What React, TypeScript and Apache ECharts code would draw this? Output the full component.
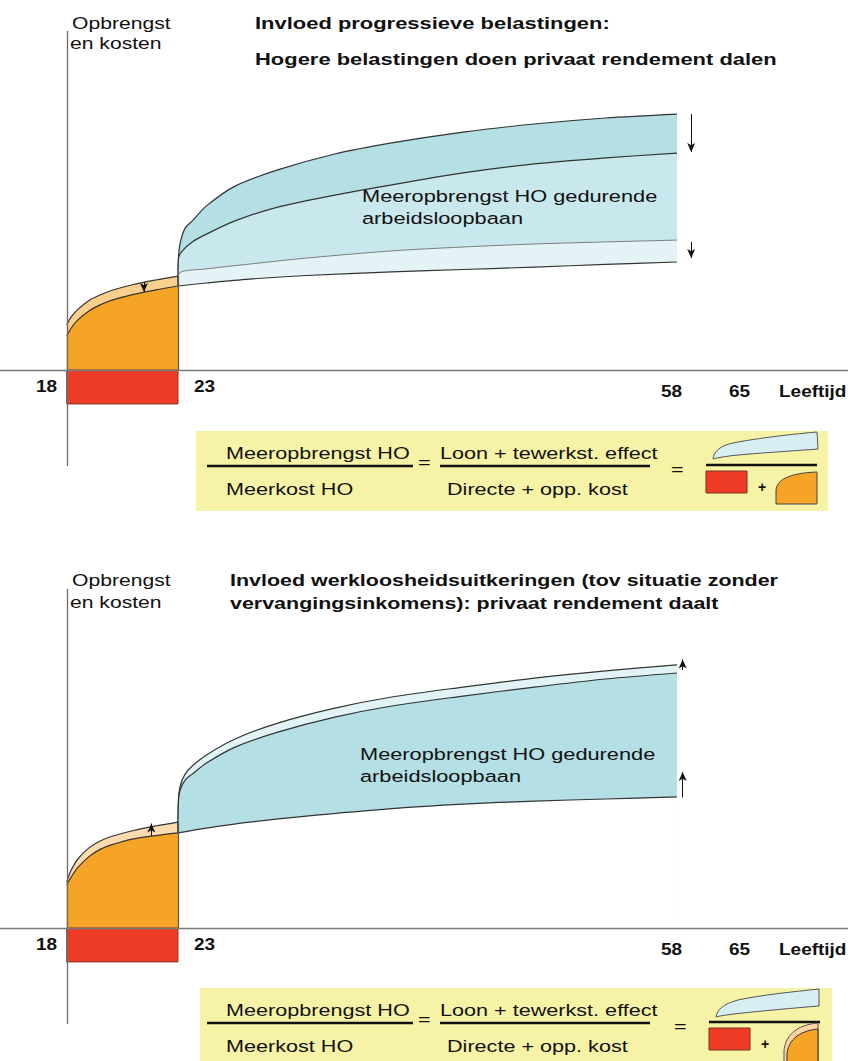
import React, { useEffect, useRef } from "react";
import * as echarts from "echarts";

const FONT = '"Liberation Sans", Arial, Helvetica, sans-serif';

// ===================== DATA (relative income units) =====================
const studyAges = [18, 18.2, 18.5, 19, 19.5, 20, 21, 22, 23];

// Panel 1: progressive taxes
const taxForegoneGross = [15, 17.7, 20.2, 23.2, 25, 26.5, 28.5, 30, 31.3];
const taxForegoneNet = [11.3, 14, 16.7, 19.7, 21.7, 23.2, 25.2, 26.7, 28];
const taxDirectCost = -11.3;
const taxHOGrossAges = [23, 23.03, 23.15, 23.5, 24, 25, 27, 30, 34, 38, 43, 48, 53, 58];
const taxHOGross = [28, 37, 42.3, 47.3, 49.7, 54.7, 61.3, 66.7, 72, 75.7, 79.3, 82, 84, 85.3];
const taxHONetAges = [23, 23.03, 23.3, 24, 25, 27, 30, 34, 38, 43, 48, 53, 58];
const taxHONet = [28, 37, 39.7, 42.7, 45.3, 49.7, 54.3, 58.3, 61.7, 65.7, 68.7, 70.7, 72.3];
const taxLowGrossAges = [23, 23.1, 25, 28, 32, 38, 43, 48, 53, 58];
const taxLowGross = [28, 32.3, 33.7, 35.3, 37.3, 39.7, 41, 42, 42.7, 43.3];
const taxLowNetAges = [23, 25, 28, 32, 38, 43, 48, 53, 58];
const taxLowNet = [28, 29, 30.3, 31.5, 32.7, 33.5, 34.3, 35.2, 36];
// arrows: [age, from, to]
const taxArrowsWork = [[59, 85.3, 72.7], [59, 42.7, 37.3]];
const taxArrowsStudy = [[21.47, 29.3, 26]];

// Panel 2: unemployment benefits
const benForegoneHigh = [15.3, 19.3, 23, 26.7, 29, 30.5, 32.5, 34, 35.3];
const benForegoneBase = [14.3, 17, 20.2, 23.8, 26.2, 27.7, 29.7, 30.8, 31.7];
const benDirectCost = -11.3;
const benHOUpperAges = [23, 23.02, 23.15, 23.5, 24, 25, 27, 30, 34, 38, 43, 48, 53, 58];
const benHOUpper = [31.7, 41.7, 47.3, 51.3, 54, 57.7, 63, 68.3, 73.3, 77, 80.3, 83.3, 85.7, 87.7];
const benHOAges = [23, 23.02, 23.15, 23.5, 24, 25, 27, 30, 34, 38, 43, 48, 53, 58];
const benHO = [31.7, 41, 46, 49.3, 51.3, 55, 60.3, 65.3, 70.3, 74, 77.3, 80.3, 83, 85];
const benLowAges = [23, 25, 28, 32, 38, 43, 48, 53, 58];
const benLow = [31.7, 33.3, 35.3, 37.3, 39.8, 41.3, 42.3, 43, 43.7];
const benArrowsWork = [[58.4, 86, 89.5], [58.4, 43.5, 52]];
const benArrowsStudy = [[21.8, 30.7, 34.8]];

const tickLabels = ["18", "23", "58", "65"];
const ageAxisName = "Leeftijd";
const valueAxisName = ["Opbrengst", "en kosten"];
const studyStart = 18;
const studyEnd = 23;

// ===================== SHAPES for the formula boxes =====================
echarts.graphic.registerShape(
  "iconBlueTop",
  echarts.graphic.extendPath("M0,27 C1,20 6,14 20,11 C40,7 70,3 104,0 L105,17 C80,19 45,21 20,23.5 C9,25 3,26 0,27 Z", {})
);
echarts.graphic.registerShape(
  "iconOrangeTop",
  echarts.graphic.extendPath("M0,33 L0,20 C0,9 13,2 41,1 L41,33 Z", {})
);
echarts.graphic.registerShape(
  "iconBlueBot",
  echarts.graphic.extendPath("M0,28 C1,21 7,15 22,11 C45,6 75,3 103,0 L103,17 C78,19 45,22 22,24.5 C10,26 3,27 0,28 Z", {})
);
echarts.graphic.registerShape(
  "iconOrangeBandBot",
  echarts.graphic.extendPath("M-1,40 L-1,26 C0,12 10,0 33,-2 L33,40 Z", {})
);
echarts.graphic.registerShape(
  "iconOrangeBot",
  echarts.graphic.extendPath("M2,40 L2,29 C3,17 12,6 33,4 L33,40 Z", {})
);

// ===================== HELPERS =====================
const INK = "#333";
const pair = (xs: number[], ys: number[]) => xs.map((x, i) => [x, ys[i]]);

const areaSeries = (name: string, idx: number, data: number[][], fill: string, z: number, line = INK, lw = 1.2) => ({
  name,
  type: "line",
  xAxisIndex: idx,
  yAxisIndex: idx,
  data,
  z,
  symbol: "none",
  smooth: 0.3,
  silent: true,
  lineStyle: { color: line, width: lw },
  areaStyle: { color: fill, opacity: 1 },
});

const directCostSeries = (idx: number, value: number) => ({
  type: "custom",
  xAxisIndex: idx,
  yAxisIndex: idx,
  z: 4,
  silent: true,
  data: [[studyStart, studyEnd, value]],
  renderItem: (params: any, api: any) => {
    const p0 = api.coord([api.value(0), 0]);
    const p1 = api.coord([api.value(1), api.value(2)]);
    return {
      type: "rect",
      shape: { x: p0[0], y: p0[1], width: p1[0] - p0[0], height: p1[1] - p0[1] },
      style: { fill: "#ee3c26", stroke: "#8a3526", lineWidth: 1 },
    };
  },
});

const markerSeries = (idx: number, items: any[], arrow: boolean) => ({
  type: "line",
  xAxisIndex: idx,
  yAxisIndex: idx,
  data: [],
  z: 10,
  silent: true,
  symbol: "none",
  markLine: {
    silent: true,
    z: 10,
    animation: false,
    symbol: arrow ? ["none", "arrow"] : ["none", "none"],
    symbolSize: arrow ? [6, 9] : 1,
    label: { show: false },
    emphasis: { disabled: true },
    lineStyle: { color: arrow ? "#111" : "#555", width: arrow ? 1 : 1.2, type: "solid", opacity: 1 },
    data: items,
  },
});

const arrowItems = (arr: number[][]) => arr.map(([x, a, b]) => [{ coord: [x, a] }, { coord: [x, b] }]);

const T = (text: string, x: number, y: number, o: any = {}) => ({
  type: "text",
  x,
  y,
  scaleX: o.sx ?? 1.31,
  silent: true,
  z: 100,
  style: {
    text,
    fill: "#111",
    fontFamily: FONT,
    fontSize: o.size ?? 16.5,
    fontWeight: o.bold ? "bold" : "normal",
    align: o.align ?? "left",
    verticalAlign: "middle",
  },
});

const L = (x1: number, y1: number, x2: number, y2: number, w = 2.5) => ({
  type: "line",
  silent: true,
  z: 100,
  shape: { x1, y1, x2, y2 },
  style: { stroke: "#111", lineWidth: w },
});

function formulaBox(dy: number, dx: number, boxX: number, bottomVariant: boolean) {
  const els: any[] = [
    { type: "rect", silent: true, z: 90, shape: { x: boxX, y: 431 + dy, width: 632, height: 80 }, style: { fill: "#f7f3a6" } },
    T("Meeropbrengst HO", 226, 453 + dy),
    L(207, 466 + dy, 413, 466 + dy),
    T("Meerkost HO", 226, 489 + dy),
    T("=", 418, 462 + dy),
    T("Loon + tewerkst. effect", 440, 453 + dy),
    L(440, 466 + dy, 650, 466 + dy),
    T("Directe + opp. kost", 447, 489 + dy),
    T("=", 671 + dx, 469 + dy),
    L(706 + dx, 465 + dy, 817 + dx, 465 + dy),
    {
      type: bottomVariant ? "iconBlueBot" : "iconBlueTop",
      x: 713 + dx,
      y: 432 + dy,
      z: 100,
      silent: true,
      style: { fill: "#d7eef3", stroke: "#555", lineWidth: 1 },
    },
    { type: "rect", silent: true, z: 100, shape: { x: 706 + dx, y: 471 + dy, width: 41, height: 22 }, style: { fill: "#ee3c26", stroke: "#7a3022", lineWidth: 1 } },
    T("+", 762 + dx, 487 + dy, { bold: true, size: 14, sx: 1, align: "center" }),
  ];
  if (bottomVariant) {
    els.push({ type: "iconOrangeBandBot", x: 785, y: 1025, z: 100, silent: true, style: { fill: "#fbd5a2", stroke: "#555", lineWidth: 1 } });
    els.push({ type: "iconOrangeBot", x: 785, y: 1025, z: 101, silent: true, style: { fill: "#f5a425", stroke: "#333", lineWidth: 1 } });
  } else {
    els.push({ type: "iconOrangeTop", x: 776, y: 471, z: 100, silent: true, style: { fill: "#f5a425", stroke: "#444", lineWidth: 1 } });
  }
  return els;
}

function panelTexts(dy: number, title: string[], titleX: number, titleDy2: number, titleSx: number, yLabelDy2: number, textX: number, textY: number[], labelDy: number) {
  const labelX = [36, 194, 661, 729];
  const labelY = [386, 386, 391.5, 391.5];
  return [
    T(valueAxisName[0], 72, 23 + dy, { sx: 1.28 }),
    T(valueAxisName[1], 70, 23 + dy + yLabelDy2, { sx: 1.28 }),
    T(title[0], titleX, 23.5 + dy, { bold: true, sx: titleSx }),
    T(title[1], titleX, 23.5 + dy + titleDy2, { bold: true, sx: titleSx }),
    T("Meeropbrengst HO gedurende", textX, textY[0], { sx: 1.32 }),
    T("arbeidsloopbaan", textX, textY[1], { sx: 1.32 }),
    ...tickLabels.map((t, i) => T(t, labelX[i], labelY[i] + labelDy, { bold: true, sx: 1.15 })),
    T(ageAxisName, 779, 391.5 + labelDy, { bold: true, sx: 1.15 }),
  ];
}

// ===================== COMPONENT =====================
export default function App() {
  const ref = useRef<HTMLDivElement>(null);

  useEffect(() => {
    document.body.style.margin = "0";
    const chart = echarts.init(ref.current!, null, { renderer: "svg" });

    const grids = [
      { left: 0, top: 31, width: 178, height: 435 },
      { left: 178, top: 31, width: 670, height: 435 },
      { left: 0, top: 589, width: 178, height: 435 },
      { left: 178, top: 589, width: 670, height: 435 },
    ];

    const xAxis = grids.map((_, i) => ({
      gridIndex: i,
      type: "value",
      min: i % 2 === 0 ? 15 : 23,
      max: i % 2 === 0 ? 23 : 70,
      z: 10,
      axisLine: { show: true, onZero: true, lineStyle: { color: "#7a7a7a", width: 1.4 } },
      axisTick: { show: false },
      axisLabel: { show: false },
      splitLine: { show: false },
    }));
    const yAxis = grids.map((_, i) => ({
      gridIndex: i,
      type: "value",
      min: -32,
      max: 113,
      axisLine: { show: false },
      axisTick: { show: false },
      axisLabel: { show: false },
      splitLine: { show: false },
    }));

    const axisLineItem = { xAxis: studyStart, lineStyle: { color: "#6a6a6a", width: 1.3 } };

    const series: any[] = [
      // ---- panel 1, study period ----
      areaSeries("Bruto gederfd loon", 0, pair(studyAges, taxForegoneGross), "#fbcf8d", 2),
      areaSeries("Netto gederfd loon", 0, pair(studyAges, taxForegoneNet), "#f5a425", 3),
      directCostSeries(0, taxDirectCost),
      markerSeries(0, [axisLineItem, [{ coord: [studyEnd, 0] }, { coord: [studyEnd, taxForegoneGross[taxForegoneGross.length - 1]] }]], false),
      markerSeries(0, arrowItems(taxArrowsStudy), true),
      // ---- panel 1, working life ----
      areaSeries("Bruto loon HO", 1, pair(taxHOGrossAges, taxHOGross), "#b3dfe5", 2),
      areaSeries("Netto loon HO", 1, pair(taxHONetAges, taxHONet), "#c8e8ed", 3),
      areaSeries("Bruto loon zonder HO", 1, pair(taxLowGrossAges, taxLowGross), "#e4f3f6", 4, "#707070", 0.9),
      areaSeries("Netto loon zonder HO", 1, pair(taxLowNetAges, taxLowNet), "#ffffff", 5),
      markerSeries(1, arrowItems(taxArrowsWork), true),
      // ---- panel 2, study period ----
      areaSeries("Gederfd loon met uitkering", 2, pair(studyAges, benForegoneHigh), "#fcdcae", 2),
      areaSeries("Gederfd loon", 2, pair(studyAges, benForegoneBase), "#f5a425", 3),
      directCostSeries(2, benDirectCost),
      markerSeries(2, [axisLineItem, [{ coord: [studyEnd, 0] }, { coord: [studyEnd, benForegoneHigh[benForegoneHigh.length - 1]] }]], false),
      markerSeries(2, arrowItems(benArrowsStudy), true),
      // ---- panel 2, working life ----
      areaSeries("Loon HO met uitkering", 3, pair(benHOUpperAges, benHOUpper), "#e2f3f6", 2),
      areaSeries("Loon HO", 3, pair(benHOAges, benHO), "#b3dfe5", 3),
      areaSeries("Loon zonder HO", 3, pair(benLowAges, benLow), "#ffffff", 5),
      markerSeries(3, arrowItems(benArrowsWork), true),
    ];

    const graphicEls: any[] = [
      ...panelTexts(0, ["Invloed progressieve belastingen:", "Hogere belastingen doen privaat rendement dalen"], 255, 36, 1.33, 20, 362, [196, 218], 0),
      ...formulaBox(0, 0, 196, false),
      ...panelTexts(557, ["Invloed werkloosheidsuitkeringen (tov situatie zonder", "vervangingsinkomens): privaat rendement daalt"], 230, 23, 1.3, 22, 360, [754, 776], 558),
      ...formulaBox(557, 3, 200, true),
    ];

    chart.setOption({
      animation: false,
      backgroundColor: "#ffffff",
      grid: grids,
      xAxis,
      yAxis,
      series,
      graphic: { elements: graphicEls },
    });

    return () => chart.dispose();
  }, []);

  return <div ref={ref} style={{ width: 848, height: 1061 }} />;
}
